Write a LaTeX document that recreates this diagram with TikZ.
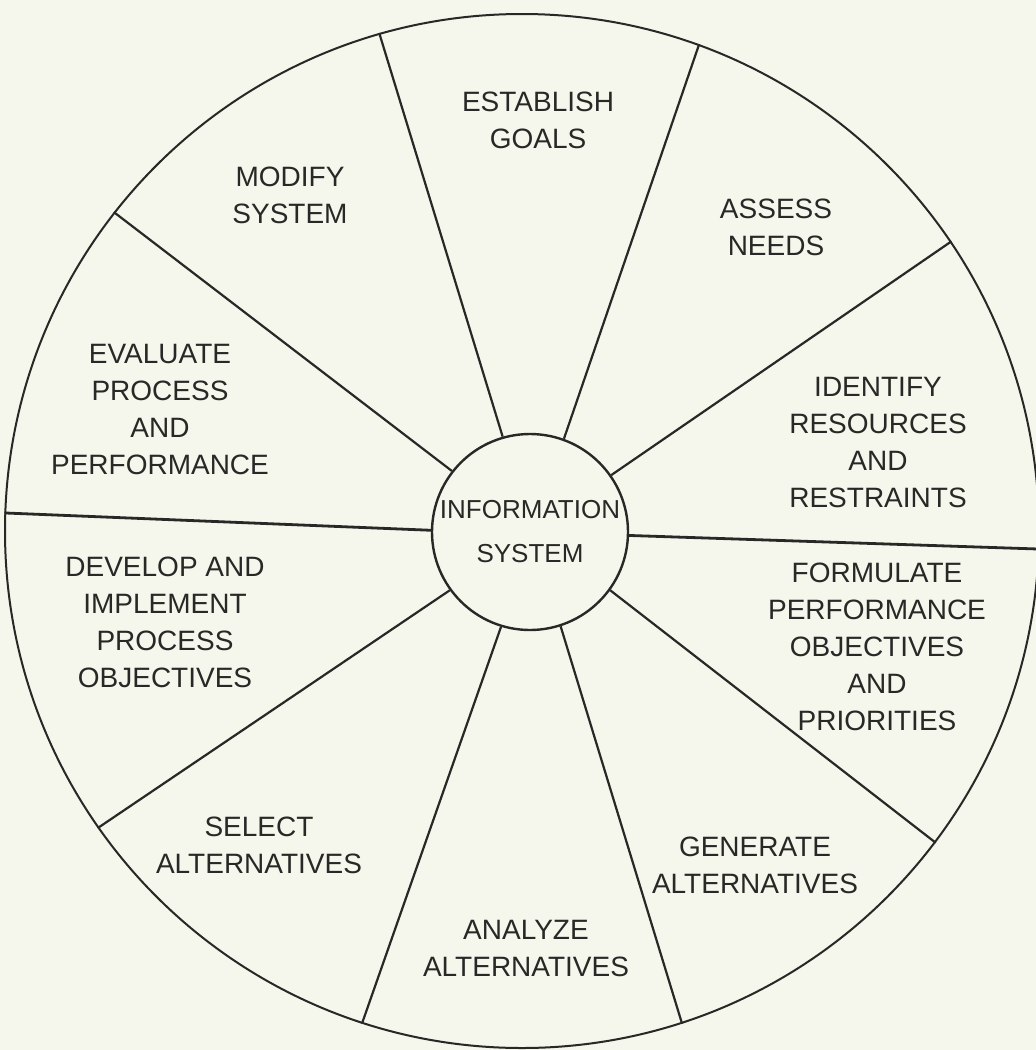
\documentclass[tikz,border=0pt]{standalone}
\usepackage{fontspec}
\setmainfont{Liberation Sans}
\definecolor{paper}{RGB}{245,247,236}
\definecolor{ink}{RGB}{40,40,38}
\begin{document}
\begin{tikzpicture}[x=1pt,y=-1pt,
  lbl/.style={font=\fontsize{28}{37}\selectfont, align=center, inner sep=0pt, anchor=north, text=ink},
  spoke/.style={draw=ink, line width=2.2pt},
  hspoke/.style={draw=ink, line width=2.8pt}
]
\useasboundingbox[fill=paper] (0,0) rectangle (1036,1050);
\node[circle, draw=ink, line width=2pt, minimum size=1034pt, inner sep=0pt] (wheel) at (522,531) {};
\node[circle, draw=ink, line width=2.4pt, minimum size=196pt, inner sep=0pt, align=center, text=ink,
  font=\fontsize{26}{44}\selectfont] (info) at (530,532) {INFORMATION\\SYSTEM};
\foreach \a/\b in {106/106, 70/70, 35/34, 324/323, 288/288, 253/252, 216/215, 142/142}
  \draw[spoke] (info.\a) -- (wheel.\b);
\draw[hspoke] (info.358) -- (wheel.358);
\draw[hspoke] (info.179) -- (wheel.178);
\node[lbl] (goals) at (538,92) {ESTABLISH\\GOALS};
\node[lbl] (modify) at (290,167) {MODIFY\\SYSTEM};
\node[lbl] (assess) at (776,199) {ASSESS\\NEEDS};
\node[lbl] (evaluate) at (160,344) {EVALUATE\\PROCESS\\AND\\PERFORMANCE};
\node[lbl] (develop) at (165,557) {DEVELOP AND\\IMPLEMENT\\PROCESS\\OBJECTIVES};
\node[lbl] (identify) at (878,377) {IDENTIFY\\RESOURCES\\AND\\RESTRAINTS};
\node[lbl] (formulate) at (877,563) {FORMULATE\\PERFORMANCE\\OBJECTIVES\\AND\\PRIORITIES};
\node[lbl] (select) at (259,817) {SELECT\\ALTERNATIVES};
\node[lbl] (generate) at (755,837) {GENERATE\\ALTERNATIVES};
\node[lbl] (analyze) at (526,920) {ANALYZE\\ALTERNATIVES};
\end{tikzpicture}
\end{document}
